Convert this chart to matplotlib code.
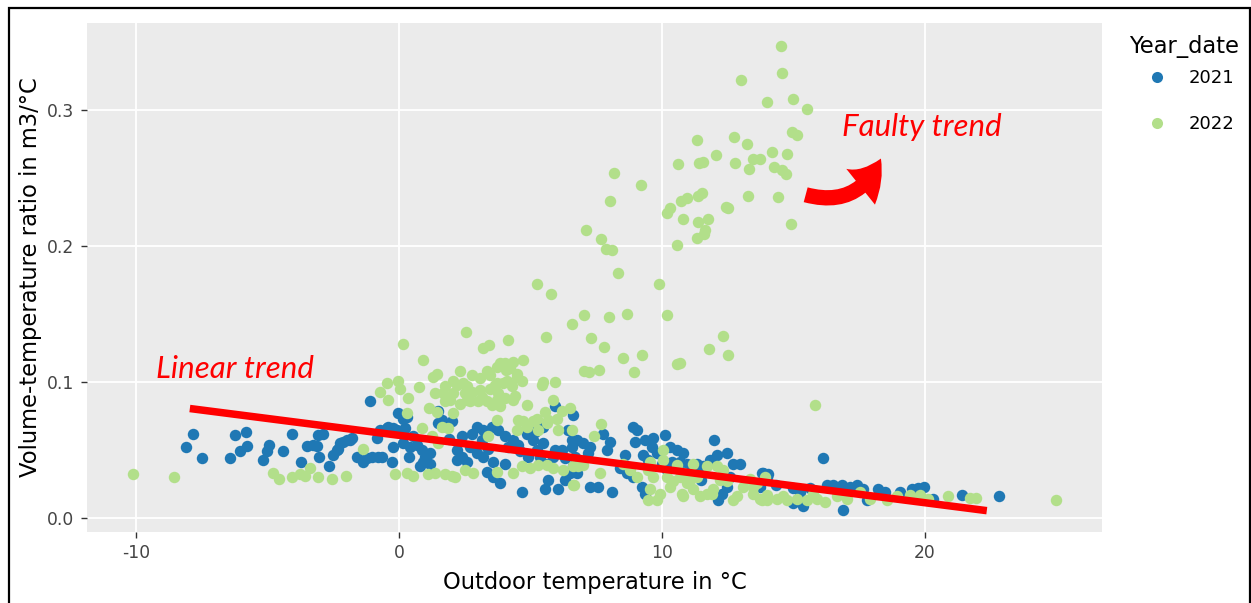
import numpy as np
import matplotlib
matplotlib.use("Agg")
import matplotlib.pyplot as plt
from matplotlib.patches import Rectangle, FancyArrowPatch
from matplotlib.lines import Line2D

plt.rcParams["axes.unicode_minus"] = False
plt.rcParams["font.family"] = "DejaVu Sans"

# (outdoor temperature, volume-temperature ratio)
pts_2021 = [
    (-7.82, 0.062), (-8.10, 0.052), (-7.48, 0.044), (-6.24, 0.061), (-5.82, 0.063),
    (-6.05, 0.049), (-5.79, 0.053), (-6.43, 0.044), (-4.93, 0.054), (-5.03, 0.049),
    (-5.16, 0.043), (-4.40, 0.049), (-4.08, 0.062), (-3.74, 0.041), (-3.51, 0.053),
    (-3.26, 0.054), (-3.07, 0.061), (-2.88, 0.062), (-3.03, 0.045), (-2.65, 0.038),
    (-2.31, 0.051), (-2.12, 0.056), (-1.86, 0.057), (-2.24, 0.055), (-1.61, 0.045),
    (-1.36, 0.041), (-1.04, 0.045), (-0.79, 0.045), (-1.10, 0.086), (-0.85, 0.059),
    (-0.47, 0.066), (-1.99, 0.057), (-1.80, 0.059), (-2.37, 0.050), (-3.13, 0.053),
    (-0.22, 0.066), (-0.03, 0.077), (0.16, 0.073), (-2.50, 0.046), (-1.20, 0.044),
    (5.93, 0.082), (6.63, 0.076), (0.29, 0.074), (-0.72, 0.065), (-0.41, 0.067),
    (-0.09, 0.065), (0.23, 0.066), (0.54, 0.060), (0.67, 0.054), (0.86, 0.050),
    (1.18, 0.048), (0.92, 0.041), (1.18, 0.040), (0.80, 0.038), (-0.22, 0.052),
    (0.16, 0.055), (0.42, 0.052), (-0.66, 0.045), (-0.28, 0.041), (1.49, 0.079),
    (1.62, 0.072), (1.81, 0.067), (2.00, 0.071), (1.49, 0.070), (2.19, 0.050),
    (2.38, 0.045), (2.70, 0.052), (2.19, 0.043), (2.57, 0.041), (2.76, 0.062),
    (2.95, 0.067), (3.21, 0.065), (3.14, 0.057), (3.52, 0.067), (2.95, 0.048),
    (3.21, 0.045), (3.40, 0.051), (3.59, 0.041), (3.33, 0.034), (3.59, 0.030),
    (3.84, 0.026), (4.03, 0.040), (3.78, 0.065), (4.03, 0.060), (4.35, 0.057),
    (4.16, 0.052), (4.54, 0.054), (4.60, 0.049), (4.86, 0.062), (5.11, 0.057),
    (4.92, 0.045), (5.24, 0.050), (5.49, 0.055), (5.36, 0.045), (5.62, 0.040),
    (5.93, 0.050), (5.87, 0.045), (6.19, 0.050), (6.31, 0.044), (6.57, 0.052),
    (6.69, 0.045), (6.44, 0.065), (6.57, 0.057), (4.67, 0.019), (5.55, 0.021),
    (6.06, 0.021), (5.68, 0.028), (6.31, 0.028), (6.76, 0.033), (5.17, 0.063),
    (5.49, 0.067), (1.90, 0.058), (2.40, 0.060), (1.00, 0.045), (0.40, 0.045),
    (6.76, 0.057), (7.01, 0.055), (7.26, 0.052), (7.20, 0.048), (7.77, 0.062),
    (8.02, 0.056), (7.90, 0.050), (8.59, 0.046), (8.40, 0.037), (8.66, 0.033),
    (8.91, 0.067), (9.04, 0.065), (8.97, 0.056), (9.35, 0.057), (9.67, 0.059),
    (9.61, 0.052), (9.29, 0.046), (9.48, 0.043), (10.11, 0.061), (10.30, 0.052),
    (10.56, 0.050), (10.81, 0.048), (9.99, 0.040), (10.37, 0.041), (10.68, 0.041),
    (10.94, 0.040), (11.13, 0.038), (11.32, 0.040), (11.57, 0.038), (11.98, 0.057),
    (12.08, 0.046), (11.83, 0.043), (12.71, 0.040), (12.97, 0.040), (12.59, 0.030),
    (12.46, 0.023), (12.27, 0.018), (12.14, 0.013), (13.79, 0.033), (13.98, 0.030),
    (7.26, 0.023), (7.58, 0.023), (8.09, 0.019), (6.63, 0.038), (6.50, 0.033),
    (8.91, 0.030), (9.23, 0.023), (9.35, 0.018), (12.46, 0.048), (10.20, 0.035),
    (11.00, 0.030), (11.50, 0.028), (9.80, 0.048),
    (16.11, 0.044), (13.85, 0.033), (14.04, 0.032), (13.73, 0.023), (15.37, 0.009),
    (16.87, 0.006), (16.26, 0.024), (16.51, 0.024), (16.83, 0.024), (17.15, 0.023),
    (17.40, 0.024), (17.65, 0.021), (18.22, 0.021), (18.48, 0.019), (19.05, 0.019),
    (19.49, 0.021), (19.75, 0.022), (19.96, 0.023), (20.32, 0.014), (21.40, 0.017),
    (22.81, 0.016), (14.35, 0.024), (14.99, 0.022), (15.63, 0.022), (15.25, 0.019),
    (17.78, 0.013), (15.00, 0.011),
]

pts_2022 = [
    # upper "faulty" branch
    (14.52, 0.347), (14.56, 0.327), (12.99, 0.322), (14.00, 0.306), (14.99, 0.308),
    (15.51, 0.301), (11.32, 0.278), (12.73, 0.280), (13.23, 0.275), (14.93, 0.284),
    (15.15, 0.282), (12.05, 0.267), (10.60, 0.260), (11.42, 0.261), (11.57, 0.262),
    (12.78, 0.261), (13.47, 0.264), (13.73, 0.264), (14.17, 0.269), (14.75, 0.268),
    (13.30, 0.257), (14.25, 0.258), (14.55, 0.256), (14.71, 0.253), (8.17, 0.254),
    (9.19, 0.245), (8.01, 0.233), (11.38, 0.237), (11.53, 0.239), (10.71, 0.233),
    (10.96, 0.235), (13.28, 0.237), (14.42, 0.236), (10.30, 0.228), (10.20, 0.224),
    (12.42, 0.229), (12.51, 0.228), (10.79, 0.220), (11.36, 0.218), (11.75, 0.220),
    (11.63, 0.212), (11.60, 0.209), (11.32, 0.206), (14.89, 0.216), (7.10, 0.212),
    (7.69, 0.205), (7.86, 0.198), (8.09, 0.197), (10.57, 0.201), (8.34, 0.180),
    (9.89, 0.172), (6.58, 0.143), (7.03, 0.149), (7.98, 0.148), (8.67, 0.150),
    (10.20, 0.149), (5.26, 0.172), (5.78, 0.165), (2.56, 0.137), (4.14, 0.131),
    (5.61, 0.133), (0.16, 0.128), (0.92, 0.116), (3.21, 0.125), (3.43, 0.127),
    (7.30, 0.132), (7.79, 0.126), (8.51, 0.118), (9.25, 0.120), (7.05, 0.108),
    (7.24, 0.107), (7.62, 0.109), (8.95, 0.107), (10.58, 0.113), (10.68, 0.114),
    (11.78, 0.124), (12.33, 0.134), (12.52, 0.120), (15.82, 0.083),
    # dense cluster around 0-6 degC
    (1.43, 0.106), (2.32, 0.108), (2.76, 0.105), (3.33, 0.108), (3.46, 0.105),
    (4.03, 0.114), (4.35, 0.115), (4.73, 0.116), (4.07, 0.109), (4.47, 0.106),
    (-0.47, 0.099), (-0.03, 0.101), (0.04, 0.095), (-0.72, 0.093), (-0.41, 0.087),
    (0.35, 0.088), (0.77, 0.096), (1.37, 0.092), (1.75, 0.097), (2.06, 0.101),
    (2.19, 0.098), (2.45, 0.099), (1.75, 0.086), (1.94, 0.087), (2.51, 0.092),
    (2.76, 0.093), (3.08, 0.094), (2.32, 0.084), (2.70, 0.086), (3.02, 0.086),
    (3.33, 0.086), (3.52, 0.083), (3.71, 0.099), (3.78, 0.092), (3.71, 0.087),
    (3.84, 0.082), (4.10, 0.101), (4.29, 0.097), (4.41, 0.090), (4.47, 0.104),
    (4.67, 0.101), (4.03, 0.088), (4.35, 0.087), (4.86, 0.083), (5.43, 0.098),
    (5.49, 0.100), (5.93, 0.100), (1.15, 0.081), (1.43, 0.078), (0.29, 0.077),
    (2.07, 0.077), (3.71, 0.072), (4.54, 0.072), (4.73, 0.071), (5.11, 0.071),
    (5.24, 0.073), (5.55, 0.078), (5.68, 0.072), (6.00, 0.073), (6.19, 0.079),
    (4.47, 0.065), (4.86, 0.067), (5.30, 0.065), (5.62, 0.070), (6.06, 0.065),
    (5.87, 0.087), (0.86, 0.066), (1.62, 0.067), (1.87, 0.066), (1.24, 0.060),
    (1.49, 0.055), (3.40, 0.060), (6.57, 0.065), (3.08, 0.103), (3.71, 0.111),
    (3.84, 0.114), (4.22, 0.110), (3.97, 0.099), (3.46, 0.095), (3.65, 0.098),
    (3.84, 0.089), (3.14, 0.089), (2.57, 0.087), (1.30, 0.104), (1.68, 0.092),
    (2.07, 0.092), (2.57, 0.097),
    # low band
    (-0.15, 0.032), (0.29, 0.033), (0.54, 0.031), (1.11, 0.032), (1.37, 0.033),
    (1.75, 0.032), (2.00, 0.031), (2.13, 0.030), (2.51, 0.035), (2.83, 0.033),
    (3.71, 0.034), (4.32, 0.033), (4.67, 0.038), (4.98, 0.037), (5.30, 0.039),
    (5.62, 0.039), (5.87, 0.037), (6.25, 0.035), (6.63, 0.038), (6.63, 0.024),
    (-10.13, 0.032), (-8.54, 0.030), (-4.80, 0.033), (-4.55, 0.029), (-4.08, 0.030),
    (-3.76, 0.032), (-3.57, 0.031), (-3.38, 0.037), (-3.07, 0.030), (-2.56, 0.029),
    (-2.03, 0.031), (-1.38, 0.051),
    (7.67, 0.069), (7.41, 0.060), (6.50, 0.081), (6.65, 0.024), (7.64, 0.033),
    (6.82, 0.038), (7.01, 0.039), (8.53, 0.040), (8.78, 0.035), (9.04, 0.030),
    (10.05, 0.050), (9.54, 0.041), (9.48, 0.035), (9.67, 0.030), (9.54, 0.021),
    (9.48, 0.013), (9.92, 0.018), (10.30, 0.023), (10.56, 0.039), (10.68, 0.030),
    (10.43, 0.027), (10.75, 0.018), (10.18, 0.030), (10.94, 0.026), (11.19, 0.021),
    (11.32, 0.030), (12.08, 0.038), (12.33, 0.035), (12.21, 0.028), (12.46, 0.027),
    (11.95, 0.021), (11.70, 0.018), (11.44, 0.016), (12.84, 0.016), (13.09, 0.023),
    (13.47, 0.018), (13.79, 0.013), (13.98, 0.017), (13.60, 0.026), (13.35, 0.029),
    (9.80, 0.013), (10.80, 0.016), (11.89, 0.018), (11.19, 0.040), (11.70, 0.038),
    (10.05, 0.043), (10.81, 0.033), (11.06, 0.028), (13.47, 0.023), (14.61, 0.016),
    (15.75, 0.018), (12.71, 0.013),
    (13.73, 0.014), (13.98, 0.013), (14.36, 0.014), (14.74, 0.013), (15.12, 0.014),
    (15.50, 0.013), (15.88, 0.014), (16.20, 0.012), (16.64, 0.016), (17.02, 0.014),
    (17.53, 0.019), (17.91, 0.014), (18.54, 0.013), (18.92, 0.016), (19.43, 0.017),
    (19.81, 0.017), (20.13, 0.014), (20.89, 0.016), (21.71, 0.015), (21.94, 0.015),
    (24.98, 0.013), (13.92, 0.030),
]

trend_x = [-7.95, 22.35]
trend_y = [0.0805, 0.0054]

years = ["2021", "2022"]
colors = {"2021": "#1F78B4", "2022": "#B2DF8A"}

W, H = 1251, 603
fig = plt.figure(figsize=(W / 100, H / 100), dpi=100)
ax = fig.add_axes([87 / W, 1 - 532 / H, (1102 - 87) / W, (532 - 23) / H])
ax.set_facecolor("#EBEBEB")

for yr, pts in zip(years, [pts_2021, pts_2022]):
    arr = np.array(pts)
    ax.scatter(arr[:, 0], arr[:, 1], s=68, color=colors[yr], linewidths=0, zorder=3)

ax.plot(trend_x, trend_y, color="#FF0000", lw=5.4, solid_capstyle="butt", zorder=5)

ax.set_xlim(-11.86, 26.73)
ax.set_ylim(-0.0103, 0.364)
ax.set_xticks([-10, 0, 10, 20])
ax.set_yticks([0.0, 0.1, 0.2, 0.3])
ax.set_yticklabels(["0.0", "0.1", "0.2", "0.3"])
ax.grid(True, color="white", lw=1.3)
ax.set_axisbelow(True)
for s in ax.spines.values():
    s.set_visible(False)
ax.tick_params(length=4, width=1, color="#333333", labelcolor="#444444",
               labelsize=12.3, pad=5)

ax.set_xlabel("Outdoor temperature in °C", fontsize=16.3, labelpad=6)
ax.set_ylabel("Volume-temperature ratio in m3/°C", fontsize=16.3, labelpad=4)

# annotations
ax.text(-9.24, 0.103, "Linear trend", color="#FF0000", fontsize=22.5,
        family="Lato", style="italic", zorder=6)
ax.text(16.84, 0.281, "Faulty trend", color="#FF0000", fontsize=22.5,
        family="Lato", style="italic", zorder=6)
arrow = FancyArrowPatch((803, H - 194), (882, H - 156), transform=None,
                        connectionstyle="arc3,rad=0.45",
                        arrowstyle="simple,head_width=3.3,head_length=2.5,tail_width=1.1",
                        mutation_scale=10, color="#FF0000", lw=0, zorder=6)
fig.add_artist(arrow)

# legend
fig.text(1129 / W, 1 - 47 / H, "Year_date", fontsize=16.3, va="center", ha="left")
handles = [Line2D([], [], ls="", marker="o", ms=8, mec="none", mfc=colors[y]) for y in years]
leg = ax.legend(handles, years, loc="upper left",
                bbox_to_anchor=(1130 / W, 1 - 69 / H), bbox_transform=fig.transFigure,
                frameon=False, handlelength=3.0, handletextpad=0.22, labelspacing=1.55,
                fontsize=13, borderaxespad=0, borderpad=0)

# outer frame
fig.add_artist(Rectangle((8.5 / W, -0.01), (1250 - 8.5) / W, 1 - 7.5 / H + 0.01,
                         transform=fig.transFigure, fill=False, ec="black", lw=1.6))

fig.savefig("out.png", dpi=100)
